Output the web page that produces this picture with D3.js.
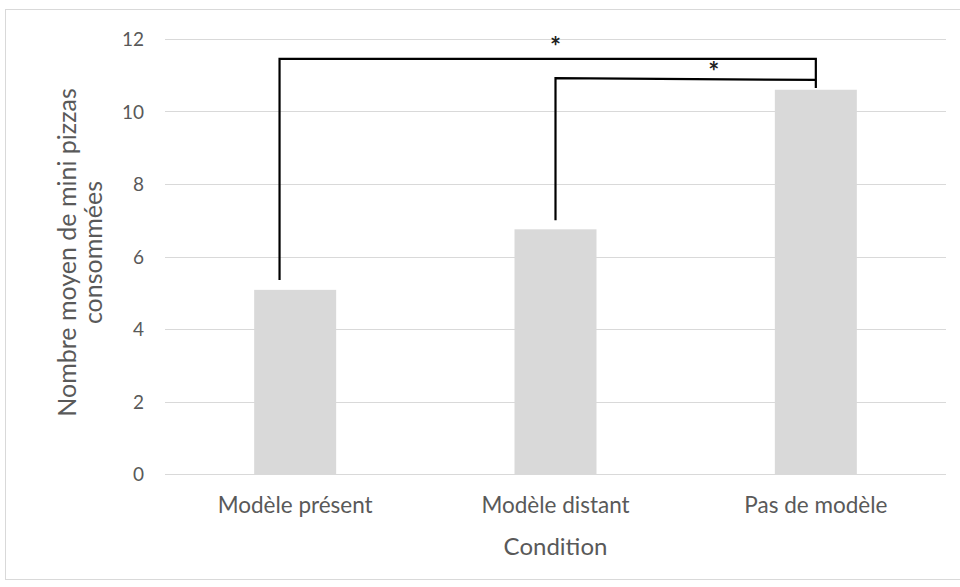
<!DOCTYPE html>
<html><head><meta charset="utf-8">
<script src="https://cdn.jsdelivr.net/npm/d3@7"></script>
<style>body{margin:0;background:#fff}svg{display:block}text{font-family:Lato,"Open Sans",sans-serif}</style>
</head><body>
<script>
const categories = ["Modèle présent", "Modèle distant", "Pas de modèle"];
const values = [5.08, 6.75, 10.6];
const yTicks = [0, 2, 4, 6, 8, 10, 12];
const yTitleLines = ["Nombre moyen de mini pizzas", "consommées"];
const xTitle = "Condition";
// significance brackets: from category/ to category, bar-height levels
const brackets = [
  {from: 0, fromOffset: -0.06, to: 2, top: 11.45, topEnd: 11.45, leftEnd: 5.35, rightEnd: 10.65, label: "*"},
  {from: 1, fromOffset: 0, to: 2, top: 10.92, topEnd: 10.87, leftEnd: 7.0, rightEnd: 10.87, label: "*"}
];

const W = 960, H = 587;
const m = {left: 165, right: 14, top: 39, bottom: 113};
const svg = d3.select("body").append("svg").attr("width", W).attr("height", H);
svg.append("rect").attr("x", 5.5).attr("y", 9.5).attr("width", 970).attr("height", 570)
  .attr("fill", "none").attr("stroke", "#d9d9d9");

const x = d3.scaleBand().domain(categories).range([m.left, W - m.right]).paddingInner(0.685).paddingOuter(0.3425);
const y = d3.scaleLinear().domain([0, 12]).range([H - m.bottom, m.top]);

const g = svg.append("g");
g.selectAll(".grid").data(yTicks).join("line")
  .attr("x1", m.left).attr("x2", W - m.right)
  .attr("y1", d => Math.round(y(d)) + 0.5).attr("y2", d => Math.round(y(d)) + 0.5)
  .attr("stroke", "#d9d9d9").attr("stroke-width", 1);

const yAxis = d3.axisLeft(y).tickSize(0).tickPadding(0).tickValues(yTicks);
const ya = svg.append("g").attr("transform", `translate(${m.left - 21},0)`).call(yAxis);
ya.select(".domain").remove();
ya.selectAll("text").attr("font-size", 19).attr("fill", "#595959").attr("dy", "0.36em");

g.selectAll(".bar").data(values).join("rect")
  .attr("x", (d, i) => x(categories[i])).attr("width", x.bandwidth())
  .attr("y", d => y(d)).attr("height", d => y(0) - y(d))
  .attr("fill", "#d9d9d9");

const xAxis = d3.axisBottom(x).tickSize(0).tickPadding(0);
const xa = svg.append("g").attr("transform", `translate(0,${y(0) + 39})`).call(xAxis);
xa.select(".domain").remove();
xa.selectAll("text").attr("font-size", 22.5).attr("fill", "#595959").attr("dy", "0");

svg.append("text").attr("x", (m.left + W - m.right) / 2).attr("y", y(0) + 81)
  .attr("text-anchor", "middle").attr("font-size", 24).attr("fill", "#595959").text(xTitle);

const yt = svg.append("text").attr("transform", `translate(76,${(y(0) + y(12)) / 2 - 4}) rotate(-90)`)
  .attr("text-anchor", "middle").attr("font-size", 25).attr("fill", "#595959");
yTitleLines.forEach((l, i) => yt.append("tspan").attr("x", 0).attr("dy", i === 0 ? 0 : 26).text(l));

const cx = i => x(categories[i]) + x.bandwidth() / 2;
brackets.forEach(b => {
  const x1 = cx(b.from) + b.fromOffset * x.step(), x2 = cx(b.to);
  const path = d3.path();
  path.moveTo(x1, y(b.leftEnd)); path.lineTo(x1, y(b.top)); path.lineTo(x2, y(b.topEnd)); path.lineTo(x2, y(b.rightEnd));
  svg.append("path").attr("d", path.toString()).attr("fill", "none").attr("stroke", "#000").attr("stroke-width", 2.2);
});
svg.append("text").attr("x", cx(1)).attr("y", y(brackets[0].top) - 3).attr("text-anchor", "middle")
  .attr("font-size", 26).attr("font-weight", "bold").attr("fill", "#222").text(brackets[0].label);
svg.append("text").attr("x", (cx(1) + cx(2)) / 2 + 28).attr("y", y(brackets[1].top) + 3).attr("text-anchor", "middle")
  .attr("font-size", 26).attr("font-weight", "bold").attr("fill", "#222").text(brackets[1].label);
</script>
</body></html>
